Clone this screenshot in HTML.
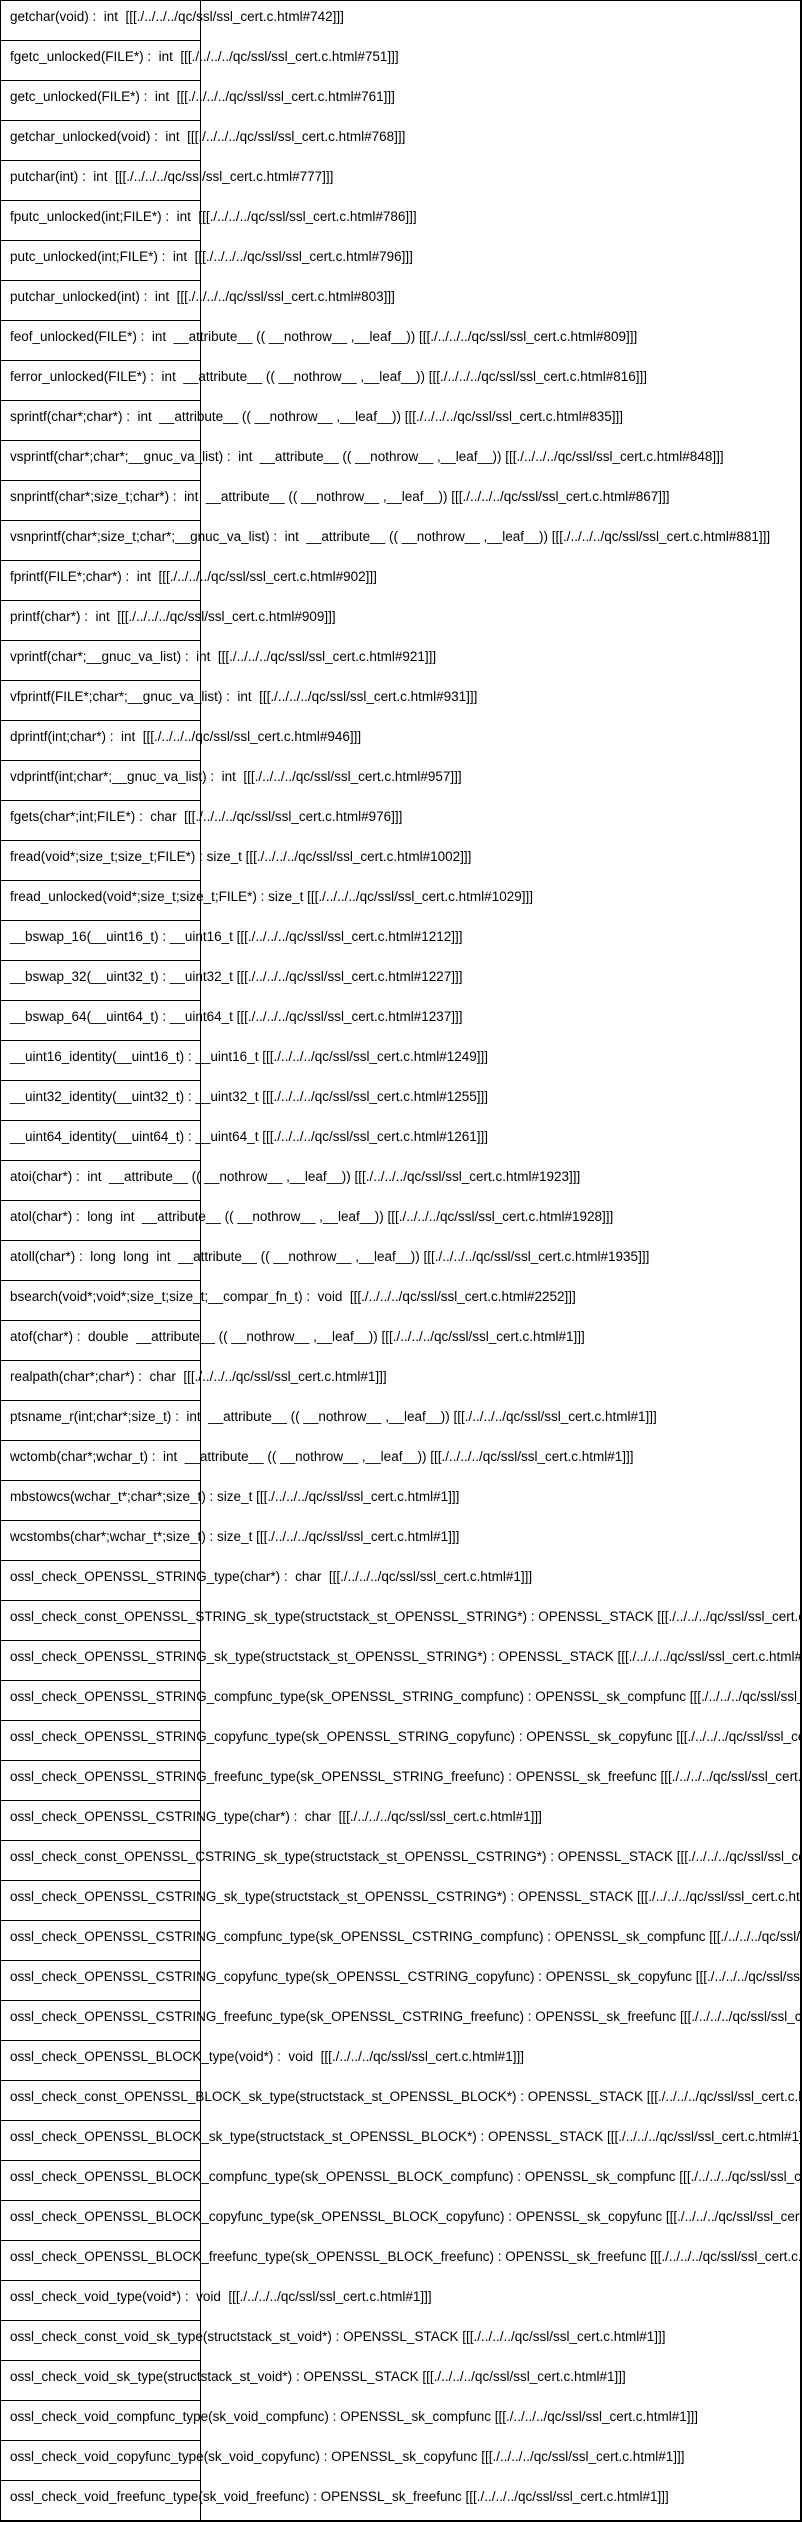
<!DOCTYPE html>
<html><head><meta charset="utf-8">
<style>
html,body{margin:0;padding:0;background:#fff;}
#w{position:relative;width:802px;height:2522px;overflow:hidden;background:#fff;}
#frame{position:absolute;left:0;top:0;width:799px;height:2519px;border:1px solid #000;border-right:2px solid #000;border-bottom:2px solid #000;}
#vl{position:absolute;left:200px;top:0;width:1px;height:2521px;background:#000;}
.h{position:absolute;left:0;width:201px;height:1px;background:#000;}
#txt{position:absolute;left:0;top:0;width:800px;height:2520px;overflow:hidden;}
.t{position:absolute;left:10px;white-space:pre;font-family:"Liberation Sans",sans-serif;font-size:13.5px;line-height:16px;color:#000;margin-top:-1px;}
</style></head><body><div id="w">
<div id="frame"></div>
<div id="vl"></div>
<div id="txt">
<div class="t" style="top:10px">getchar(void) :  int  [[[./../../../qc/ssl/ssl_cert.c.html#742]]]</div>
<div class="t" style="top:50px">fgetc_unlocked(FILE*) :  int  [[[./../../../qc/ssl/ssl_cert.c.html#751]]]</div>
<div class="t" style="top:90px">getc_unlocked(FILE*) :  int  [[[./../../../qc/ssl/ssl_cert.c.html#761]]]</div>
<div class="t" style="top:130px">getchar_unlocked(void) :  int  [[[./../../../qc/ssl/ssl_cert.c.html#768]]]</div>
<div class="t" style="top:170px">putchar(int) :  int  [[[./../../../qc/ssl/ssl_cert.c.html#777]]]</div>
<div class="t" style="top:210px">fputc_unlocked(int;FILE*) :  int  [[[./../../../qc/ssl/ssl_cert.c.html#786]]]</div>
<div class="t" style="top:250px">putc_unlocked(int;FILE*) :  int  [[[./../../../qc/ssl/ssl_cert.c.html#796]]]</div>
<div class="t" style="top:290px">putchar_unlocked(int) :  int  [[[./../../../qc/ssl/ssl_cert.c.html#803]]]</div>
<div class="t" style="top:330px">feof_unlocked(FILE*) :  int  __attribute__ (( __nothrow__ ,__leaf__)) [[[./../../../qc/ssl/ssl_cert.c.html#809]]]</div>
<div class="t" style="top:370px">ferror_unlocked(FILE*) :  int  __attribute__ (( __nothrow__ ,__leaf__)) [[[./../../../qc/ssl/ssl_cert.c.html#816]]]</div>
<div class="t" style="top:410px">sprintf(char*;char*) :  int  __attribute__ (( __nothrow__ ,__leaf__)) [[[./../../../qc/ssl/ssl_cert.c.html#835]]]</div>
<div class="t" style="top:450px">vsprintf(char*;char*;__gnuc_va_list) :  int  __attribute__ (( __nothrow__ ,__leaf__)) [[[./../../../qc/ssl/ssl_cert.c.html#848]]]</div>
<div class="t" style="top:490px">snprintf(char*;size_t;char*) :  int  __attribute__ (( __nothrow__ ,__leaf__)) [[[./../../../qc/ssl/ssl_cert.c.html#867]]]</div>
<div class="t" style="top:530px">vsnprintf(char*;size_t;char*;__gnuc_va_list) :  int  __attribute__ (( __nothrow__ ,__leaf__)) [[[./../../../qc/ssl/ssl_cert.c.html#881]]]</div>
<div class="t" style="top:570px">fprintf(FILE*;char*) :  int  [[[./../../../qc/ssl/ssl_cert.c.html#902]]]</div>
<div class="t" style="top:610px">printf(char*) :  int  [[[./../../../qc/ssl/ssl_cert.c.html#909]]]</div>
<div class="t" style="top:650px">vprintf(char*;__gnuc_va_list) :  int  [[[./../../../qc/ssl/ssl_cert.c.html#921]]]</div>
<div class="t" style="top:690px">vfprintf(FILE*;char*;__gnuc_va_list) :  int  [[[./../../../qc/ssl/ssl_cert.c.html#931]]]</div>
<div class="t" style="top:730px">dprintf(int;char*) :  int  [[[./../../../qc/ssl/ssl_cert.c.html#946]]]</div>
<div class="t" style="top:770px">vdprintf(int;char*;__gnuc_va_list) :  int  [[[./../../../qc/ssl/ssl_cert.c.html#957]]]</div>
<div class="t" style="top:810px">fgets(char*;int;FILE*) :  char  [[[./../../../qc/ssl/ssl_cert.c.html#976]]]</div>
<div class="t" style="top:850px">fread(void*;size_t;size_t;FILE*) : size_t [[[./../../../qc/ssl/ssl_cert.c.html#1002]]]</div>
<div class="t" style="top:890px">fread_unlocked(void*;size_t;size_t;FILE*) : size_t [[[./../../../qc/ssl/ssl_cert.c.html#1029]]]</div>
<div class="t" style="top:930px">__bswap_16(__uint16_t) : __uint16_t [[[./../../../qc/ssl/ssl_cert.c.html#1212]]]</div>
<div class="t" style="top:970px">__bswap_32(__uint32_t) : __uint32_t [[[./../../../qc/ssl/ssl_cert.c.html#1227]]]</div>
<div class="t" style="top:1010px">__bswap_64(__uint64_t) : __uint64_t [[[./../../../qc/ssl/ssl_cert.c.html#1237]]]</div>
<div class="t" style="top:1050px">__uint16_identity(__uint16_t) : __uint16_t [[[./../../../qc/ssl/ssl_cert.c.html#1249]]]</div>
<div class="t" style="top:1090px">__uint32_identity(__uint32_t) : __uint32_t [[[./../../../qc/ssl/ssl_cert.c.html#1255]]]</div>
<div class="t" style="top:1130px">__uint64_identity(__uint64_t) : __uint64_t [[[./../../../qc/ssl/ssl_cert.c.html#1261]]]</div>
<div class="t" style="top:1170px">atoi(char*) :  int  __attribute__ (( __nothrow__ ,__leaf__)) [[[./../../../qc/ssl/ssl_cert.c.html#1923]]]</div>
<div class="t" style="top:1210px">atol(char*) :  long  int  __attribute__ (( __nothrow__ ,__leaf__)) [[[./../../../qc/ssl/ssl_cert.c.html#1928]]]</div>
<div class="t" style="top:1250px">atoll(char*) :  long  long  int  __attribute__ (( __nothrow__ ,__leaf__)) [[[./../../../qc/ssl/ssl_cert.c.html#1935]]]</div>
<div class="t" style="top:1290px">bsearch(void*;void*;size_t;size_t;__compar_fn_t) :  void  [[[./../../../qc/ssl/ssl_cert.c.html#2252]]]</div>
<div class="t" style="top:1330px">atof(char*) :  double  __attribute__ (( __nothrow__ ,__leaf__)) [[[./../../../qc/ssl/ssl_cert.c.html#1]]]</div>
<div class="t" style="top:1370px">realpath(char*;char*) :  char  [[[./../../../qc/ssl/ssl_cert.c.html#1]]]</div>
<div class="t" style="top:1410px">ptsname_r(int;char*;size_t) :  int  __attribute__ (( __nothrow__ ,__leaf__)) [[[./../../../qc/ssl/ssl_cert.c.html#1]]]</div>
<div class="t" style="top:1450px">wctomb(char*;wchar_t) :  int  __attribute__ (( __nothrow__ ,__leaf__)) [[[./../../../qc/ssl/ssl_cert.c.html#1]]]</div>
<div class="t" style="top:1490px">mbstowcs(wchar_t*;char*;size_t) : size_t [[[./../../../qc/ssl/ssl_cert.c.html#1]]]</div>
<div class="t" style="top:1530px">wcstombs(char*;wchar_t*;size_t) : size_t [[[./../../../qc/ssl/ssl_cert.c.html#1]]]</div>
<div class="t" style="top:1570px">ossl_check_OPENSSL_STRING_type(char*) :  char  [[[./../../../qc/ssl/ssl_cert.c.html#1]]]</div>
<div class="t" style="top:1610px">ossl_check_const_OPENSSL_STRING_sk_type(structstack_st_OPENSSL_STRING*) : OPENSSL_STACK [[[./../../../qc/ssl/ssl_cert.c.html#1]]]</div>
<div class="t" style="top:1650px">ossl_check_OPENSSL_STRING_sk_type(structstack_st_OPENSSL_STRING*) : OPENSSL_STACK [[[./../../../qc/ssl/ssl_cert.c.html#1]]]</div>
<div class="t" style="top:1690px">ossl_check_OPENSSL_STRING_compfunc_type(sk_OPENSSL_STRING_compfunc) : OPENSSL_sk_compfunc [[[./../../../qc/ssl/ssl_cert.c.html#1]]]</div>
<div class="t" style="top:1730px">ossl_check_OPENSSL_STRING_copyfunc_type(sk_OPENSSL_STRING_copyfunc) : OPENSSL_sk_copyfunc [[[./../../../qc/ssl/ssl_cert.c.html#1]]]</div>
<div class="t" style="top:1770px">ossl_check_OPENSSL_STRING_freefunc_type(sk_OPENSSL_STRING_freefunc) : OPENSSL_sk_freefunc [[[./../../../qc/ssl/ssl_cert.c.html#1]]]</div>
<div class="t" style="top:1810px">ossl_check_OPENSSL_CSTRING_type(char*) :  char  [[[./../../../qc/ssl/ssl_cert.c.html#1]]]</div>
<div class="t" style="top:1850px">ossl_check_const_OPENSSL_CSTRING_sk_type(structstack_st_OPENSSL_CSTRING*) : OPENSSL_STACK [[[./../../../qc/ssl/ssl_cert.c.html#1]]]</div>
<div class="t" style="top:1890px">ossl_check_OPENSSL_CSTRING_sk_type(structstack_st_OPENSSL_CSTRING*) : OPENSSL_STACK [[[./../../../qc/ssl/ssl_cert.c.html#1]]]</div>
<div class="t" style="top:1930px">ossl_check_OPENSSL_CSTRING_compfunc_type(sk_OPENSSL_CSTRING_compfunc) : OPENSSL_sk_compfunc [[[./../../../qc/ssl/ssl_cert.c.html#1]]]</div>
<div class="t" style="top:1970px">ossl_check_OPENSSL_CSTRING_copyfunc_type(sk_OPENSSL_CSTRING_copyfunc) : OPENSSL_sk_copyfunc [[[./../../../qc/ssl/ssl_cert.c.html#1]]]</div>
<div class="t" style="top:2010px">ossl_check_OPENSSL_CSTRING_freefunc_type(sk_OPENSSL_CSTRING_freefunc) : OPENSSL_sk_freefunc [[[./../../../qc/ssl/ssl_cert.c.html#1]]]</div>
<div class="t" style="top:2050px">ossl_check_OPENSSL_BLOCK_type(void*) :  void  [[[./../../../qc/ssl/ssl_cert.c.html#1]]]</div>
<div class="t" style="top:2090px">ossl_check_const_OPENSSL_BLOCK_sk_type(structstack_st_OPENSSL_BLOCK*) : OPENSSL_STACK [[[./../../../qc/ssl/ssl_cert.c.html#1]]]</div>
<div class="t" style="top:2130px">ossl_check_OPENSSL_BLOCK_sk_type(structstack_st_OPENSSL_BLOCK*) : OPENSSL_STACK [[[./../../../qc/ssl/ssl_cert.c.html#1]]]</div>
<div class="t" style="top:2170px">ossl_check_OPENSSL_BLOCK_compfunc_type(sk_OPENSSL_BLOCK_compfunc) : OPENSSL_sk_compfunc [[[./../../../qc/ssl/ssl_cert.c.html#1]]]</div>
<div class="t" style="top:2210px">ossl_check_OPENSSL_BLOCK_copyfunc_type(sk_OPENSSL_BLOCK_copyfunc) : OPENSSL_sk_copyfunc [[[./../../../qc/ssl/ssl_cert.c.html#1]]]</div>
<div class="t" style="top:2250px">ossl_check_OPENSSL_BLOCK_freefunc_type(sk_OPENSSL_BLOCK_freefunc) : OPENSSL_sk_freefunc [[[./../../../qc/ssl/ssl_cert.c.html#1]]]</div>
<div class="t" style="top:2290px">ossl_check_void_type(void*) :  void  [[[./../../../qc/ssl/ssl_cert.c.html#1]]]</div>
<div class="t" style="top:2330px">ossl_check_const_void_sk_type(structstack_st_void*) : OPENSSL_STACK [[[./../../../qc/ssl/ssl_cert.c.html#1]]]</div>
<div class="t" style="top:2370px">ossl_check_void_sk_type(structstack_st_void*) : OPENSSL_STACK [[[./../../../qc/ssl/ssl_cert.c.html#1]]]</div>
<div class="t" style="top:2410px">ossl_check_void_compfunc_type(sk_void_compfunc) : OPENSSL_sk_compfunc [[[./../../../qc/ssl/ssl_cert.c.html#1]]]</div>
<div class="t" style="top:2450px">ossl_check_void_copyfunc_type(sk_void_copyfunc) : OPENSSL_sk_copyfunc [[[./../../../qc/ssl/ssl_cert.c.html#1]]]</div>
<div class="t" style="top:2490px">ossl_check_void_freefunc_type(sk_void_freefunc) : OPENSSL_sk_freefunc [[[./../../../qc/ssl/ssl_cert.c.html#1]]]</div>
</div>
<div class="h" style="top:40px"></div><div class="h" style="top:80px"></div><div class="h" style="top:120px"></div><div class="h" style="top:160px"></div><div class="h" style="top:200px"></div><div class="h" style="top:240px"></div><div class="h" style="top:280px"></div><div class="h" style="top:320px"></div><div class="h" style="top:360px"></div><div class="h" style="top:400px"></div>
<div class="h" style="top:440px"></div><div class="h" style="top:480px"></div><div class="h" style="top:520px"></div><div class="h" style="top:560px"></div><div class="h" style="top:600px"></div><div class="h" style="top:640px"></div><div class="h" style="top:680px"></div><div class="h" style="top:720px"></div><div class="h" style="top:760px"></div><div class="h" style="top:800px"></div>
<div class="h" style="top:840px"></div><div class="h" style="top:880px"></div><div class="h" style="top:920px"></div><div class="h" style="top:960px"></div><div class="h" style="top:1000px"></div><div class="h" style="top:1040px"></div><div class="h" style="top:1080px"></div><div class="h" style="top:1120px"></div><div class="h" style="top:1160px"></div><div class="h" style="top:1200px"></div>
<div class="h" style="top:1240px"></div><div class="h" style="top:1280px"></div><div class="h" style="top:1320px"></div><div class="h" style="top:1360px"></div><div class="h" style="top:1400px"></div><div class="h" style="top:1440px"></div><div class="h" style="top:1480px"></div><div class="h" style="top:1520px"></div><div class="h" style="top:1560px"></div><div class="h" style="top:1600px"></div>
<div class="h" style="top:1640px"></div><div class="h" style="top:1680px"></div><div class="h" style="top:1720px"></div><div class="h" style="top:1760px"></div><div class="h" style="top:1800px"></div><div class="h" style="top:1840px"></div><div class="h" style="top:1880px"></div><div class="h" style="top:1920px"></div><div class="h" style="top:1960px"></div><div class="h" style="top:2000px"></div>
<div class="h" style="top:2040px"></div><div class="h" style="top:2080px"></div><div class="h" style="top:2120px"></div><div class="h" style="top:2160px"></div><div class="h" style="top:2200px"></div><div class="h" style="top:2240px"></div><div class="h" style="top:2280px"></div><div class="h" style="top:2320px"></div><div class="h" style="top:2360px"></div><div class="h" style="top:2400px"></div>
<div class="h" style="top:2440px"></div><div class="h" style="top:2480px"></div>
</div></body></html>
